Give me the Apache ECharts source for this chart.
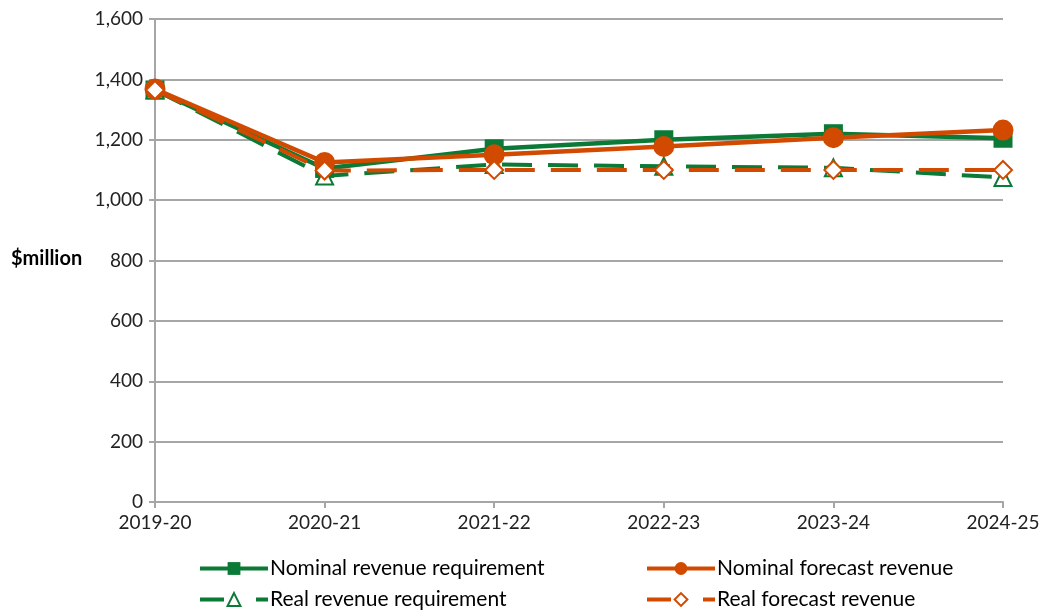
<!DOCTYPE html>
<html>
<head>
<meta charset="utf-8">
<script src="https://cdn.jsdelivr.net/npm/echarts@6/dist/echarts.min.js"></script>
<style>
  html, body { margin: 0; padding: 0; background: #fff; }
  #chart { width: 1043px; height: 611px; }
</style>
</head>
<body>
<div id="chart"></div>
<script>
// Revenue requirement vs forecast revenue, $million
const years = ['2019-20', '2020-21', '2021-22', '2022-23', '2023-24', '2024-25'];
const nominalRequirement = [1365, 1105, 1170, 1200, 1220, 1205];
const nominalForecast = [1368, 1125, 1150, 1178, 1207, 1232];
const realRequirement = [1365, 1080, 1118, 1112, 1107, 1075];
const realForecast = [1365, 1098, 1100, 1100, 1100, 1100];
const yTicks = { min: 0, max: 1600, interval: 200 };

const GREEN = '#0A7A36';
const ORANGE = '#D24A00';
const FONT = 'Lato';
const dash = [30, 16];

const chart = echarts.init(document.getElementById('chart'), null, { renderer: 'canvas' });

function legendAt(name, color, dashed, left, top) {
  return {
    data: [{
      name: name,
      lineStyle: { color: color, width: 4, type: dashed ? [24, 32] : 'solid' }
    }],
    left: left,
    top: top,
    itemWidth: 68,
    itemHeight: 16,
    itemGap: 0,
    textStyle: { fontFamily: FONT, fontSize: 21, color: '#000', padding: [0, 0, 0, -3] },
    selectedMode: false
  };
}

chart.setOption({
  animation: false,
  backgroundColor: '#fff',
  grid: { left: 155, right: 40, top: 19, bottom: 109, containLabel: false },
  xAxis: {
    type: 'category',
    data: years,
    boundaryGap: false,
    axisLine: { lineStyle: { color: '#A6A6A6', width: 2 } },
    axisTick: { show: true, length: 6, alignWithLabel: true, lineStyle: { color: '#A6A6A6', width: 2 } },
    axisLabel: { fontFamily: FONT, fontSize: 19, color: '#222', margin: 11 },
    splitLine: { show: false }
  },
  yAxis: {
    type: 'value',
    min: yTicks.min,
    max: yTicks.max,
    interval: yTicks.interval,
    axisLine: { show: true, lineStyle: { color: '#A6A6A6', width: 2 } },
    axisTick: { show: true, length: 6, lineStyle: { color: '#A6A6A6', width: 2 } },
    axisLabel: {
      fontFamily: FONT, fontSize: 19, color: '#222', margin: 12,
      formatter: v => v.toLocaleString('en-US')
    },
    splitLine: { show: true, lineStyle: { color: '#A6A6A6', width: 2 } }
  },
  graphic: [{
    type: 'text',
    left: 11,
    top: 249,
    style: { text: '$million', fontFamily: FONT, fontSize: 20, fontWeight: 'bold', fill: '#000' }
  }],
  legend: [
    legendAt('Nominal revenue requirement', GREEN, false, 193, 553),
    legendAt('Nominal forecast revenue', ORANGE, false, 640, 553),
    legendAt('Real revenue requirement', GREEN, true, 193, 584),
    legendAt('Real forecast revenue', ORANGE, true, 640, 584)
  ],
  series: [
    {
      name: 'Nominal revenue requirement',
      type: 'line',
      data: nominalRequirement,
      symbol: 'rect',
      symbolSize: 19,
      lineStyle: { color: GREEN, width: 4.5 },
      itemStyle: { color: GREEN },
      z: 2
    },
    {
      name: 'Real revenue requirement',
      type: 'line',
      data: realRequirement,
      symbol: 'triangle',
      symbolSize: 17,
      lineStyle: { color: GREEN, width: 4, type: dash },
      itemStyle: { color: '#fff', borderColor: GREEN, borderWidth: 2 },
      z: 2
    },
    {
      name: 'Nominal forecast revenue',
      type: 'line',
      data: nominalForecast,
      symbol: 'circle',
      symbolSize: 21,
      lineStyle: { color: ORANGE, width: 4.5 },
      itemStyle: { color: ORANGE },
      z: 3
    },
    {
      name: 'Real forecast revenue',
      type: 'line',
      data: realForecast,
      symbol: 'diamond',
      symbolSize: 18,
      lineStyle: { color: ORANGE, width: 4, type: dash },
      itemStyle: { color: '#fff', borderColor: ORANGE, borderWidth: 2 },
      z: 3
    }
  ]
});
</script>
</body>
</html>
